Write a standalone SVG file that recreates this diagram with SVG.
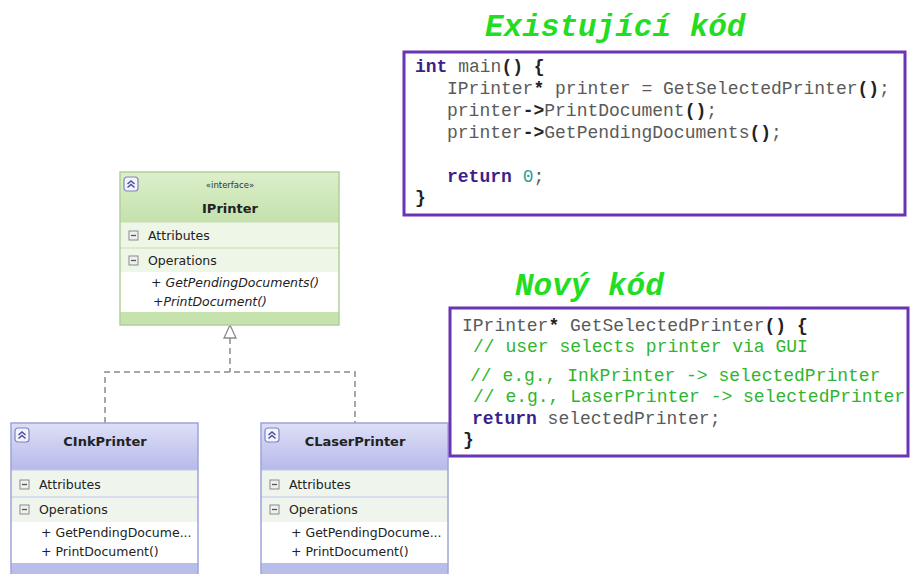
<svg xmlns="http://www.w3.org/2000/svg" width="910" height="574" viewBox="0 0 910 574">
<defs>
<linearGradient id="gGreen" x1="0" y1="0" x2="0" y2="1"><stop offset="0" stop-color="#dcefcc"/><stop offset="1" stop-color="#c4e1ac"/></linearGradient>
<linearGradient id="gPurple" x1="0" y1="0" x2="0" y2="1"><stop offset="0" stop-color="#dedff6"/><stop offset="1" stop-color="#b6baea"/></linearGradient>
<g id="collapse"><rect x="0" y="0" width="14" height="14" rx="3" fill="#f4f4fc" stroke="#7f84c4" stroke-width="1.2"/><path d="M3.5,7 L7,4 L10.5,7 M3.5,10.5 L7,7.5 L10.5,10.5" fill="none" stroke="#4a4f9a" stroke-width="1.5"/></g>
<g id="minus"><rect x="0" y="0" width="9" height="9" fill="#f0f0f0" stroke="#8a8a8a" stroke-width="1"/><line x1="2" y1="4.5" x2="7" y2="4.5" stroke="#555" stroke-width="1.3"/></g>
</defs>
<style>
.uml{font-family:"DejaVu Sans",Verdana,sans-serif;font-size:12.5px;fill:#222}
.umlb{font-family:"DejaVu Sans",Verdana,sans-serif;font-size:13px;font-weight:bold;fill:#222}
.ster{font-family:"DejaVu Sans",Verdana,sans-serif;font-size:8.5px;fill:#333}
.it{font-style:italic}
.code{font-family:"Liberation Mono","Courier New",monospace;font-size:18px;fill:#5a5a5a;white-space:pre}
.b{font-weight:bold;fill:#222}
.kw{font-weight:bold;fill:#3c1f8c}
.num{fill:#2a9fa0}
.cm{fill:#2fb52f}
.title{font-family:"Liberation Mono","Courier New",monospace;font-size:31px;font-weight:bold;font-style:italic;fill:#22dd22}
.box{fill:#fff;stroke:#6a34b4;stroke-width:3}
.conn{fill:none;stroke:#8a8a8a;stroke-width:1.5;stroke-dasharray:6 4}
</style>

<g id="connectors">
<path class="conn" d="M230,338 V372 M105,423 V372 H355 V423"/>
<polygon points="230,325 224,338 236,338" fill="#fff" stroke="#8a8a8a" stroke-width="1.3"/>
</g>

<g id="IPrinter">
<rect x="120" y="172" width="219" height="153" fill="#fff"/>
<rect x="120" y="172" width="219" height="50" fill="url(#gGreen)"/>
<rect x="120" y="222" width="219" height="50" fill="#eef6e7"/>
<line x1="120" y1="222" x2="339" y2="222" stroke="#c8ddb6"/>
<line x1="120" y1="248" x2="339" y2="248" stroke="#c8ddb6"/>
<rect x="120" y="312" width="219" height="13" fill="#c6e3ae"/>
<rect x="120" y="172" width="219" height="153" fill="none" stroke="#b3cf98" stroke-width="1.5"/>
<use href="#collapse" x="124" y="177"/>
<text class="ster" x="230" y="188" text-anchor="middle">«interface»</text>
<text class="umlb" x="230" y="213" text-anchor="middle">IPrinter</text>
<use href="#minus" x="129" y="231"/>
<text class="uml" x="148" y="240">Attributes</text>
<use href="#minus" x="129" y="256"/>
<text class="uml" x="148" y="265">Operations</text>
<text class="uml it" x="151" y="287">+ GetPendingDocuments()</text>
<text class="uml it" x="153" y="306">+PrintDocument()</text>
</g>

<g id="CInkPrinter">
<rect x="11" y="423" width="187" height="160" fill="#fff"/>
<rect x="11" y="423" width="187" height="47" fill="url(#gPurple)"/>
<rect x="11" y="470" width="187" height="52" fill="#eff5ec"/>
<line x1="11" y1="470" x2="198" y2="470" stroke="#c3c6ec"/>
<line x1="11" y1="497" x2="198" y2="497" stroke="#c3c6ec"/>
<rect x="11" y="563" width="187" height="20" fill="#b9bde9"/>
<rect x="11" y="423" width="187" height="160" fill="none" stroke="#9ea3dc" stroke-width="1.5"/>
<use href="#collapse" x="15" y="428"/>
<text class="umlb" x="105" y="446" text-anchor="middle">CInkPrinter</text>
<use href="#minus" x="20" y="480"/>
<text class="uml" x="39" y="489">Attributes</text>
<use href="#minus" x="20" y="505"/>
<text class="uml" x="39" y="514">Operations</text>
<text class="uml" x="41" y="537">+ GetPendingDocume...</text>
<text class="uml" x="41" y="556">+ PrintDocument()</text>
</g>

<g id="CLaserPrinter">
<rect x="261" y="423" width="187" height="160" fill="#fff"/>
<rect x="261" y="423" width="187" height="47" fill="url(#gPurple)"/>
<rect x="261" y="470" width="187" height="52" fill="#eff5ec"/>
<line x1="261" y1="470" x2="448" y2="470" stroke="#c3c6ec"/>
<line x1="261" y1="497" x2="448" y2="497" stroke="#c3c6ec"/>
<rect x="261" y="563" width="187" height="20" fill="#b9bde9"/>
<rect x="261" y="423" width="187" height="160" fill="none" stroke="#9ea3dc" stroke-width="1.5"/>
<use href="#collapse" x="265" y="428"/>
<text class="umlb" x="355" y="446" text-anchor="middle">CLaserPrinter</text>
<use href="#minus" x="270" y="480"/>
<text class="uml" x="289" y="489">Attributes</text>
<use href="#minus" x="270" y="505"/>
<text class="uml" x="289" y="514">Operations</text>
<text class="uml" x="291" y="537">+ GetPendingDocume...</text>
<text class="uml" x="291" y="556">+ PrintDocument()</text>
</g>

<g id="existing-code">
<text class="title" x="485" y="36">Existující kód</text>
<rect class="box" x="404" y="52" width="501" height="163"/>
<text class="code" x="415" y="72"><tspan class="kw">int</tspan> main<tspan class="b">()</tspan> <tspan class="b">{</tspan></text>
<text class="code" x="447" y="94">IPrinter<tspan class="b">*</tspan> printer = GetSelectedPrinter<tspan class="b">()</tspan>;</text>
<text class="code" x="447" y="116">printer<tspan class="b">-&gt;</tspan>PrintDocument<tspan class="b">()</tspan>;</text>
<text class="code" x="447" y="138">printer<tspan class="b">-&gt;</tspan>GetPendingDocuments<tspan class="b">()</tspan>;</text>
<text class="code" x="447" y="182"><tspan class="kw">return</tspan> <tspan class="num">0</tspan>;</text>
<text class="code b" x="415" y="203">}</text>
</g>

<g id="new-code">
<text class="title" x="515" y="295">Nový kód</text>
<rect class="box" x="450" y="308" width="458" height="148"/>
<text class="code" x="462" y="331">IPrinter<tspan class="b">*</tspan> GetSelectedPrinter<tspan class="b">()</tspan> <tspan class="b">{</tspan></text>
<text class="code cm" x="473" y="352">// user selects printer via GUI</text>
<text class="code cm" x="470" y="381">// e.g., InkPrinter -&gt; selectedPrinter</text>
<text class="code cm" x="473" y="402">// e.g., LaserPrinter -&gt; selectedPrinter</text>
<text class="code" x="472" y="424"><tspan class="kw">return</tspan> selectedPrinter;</text>
<text class="code b" x="463" y="445">}</text>
</g>
</svg>
